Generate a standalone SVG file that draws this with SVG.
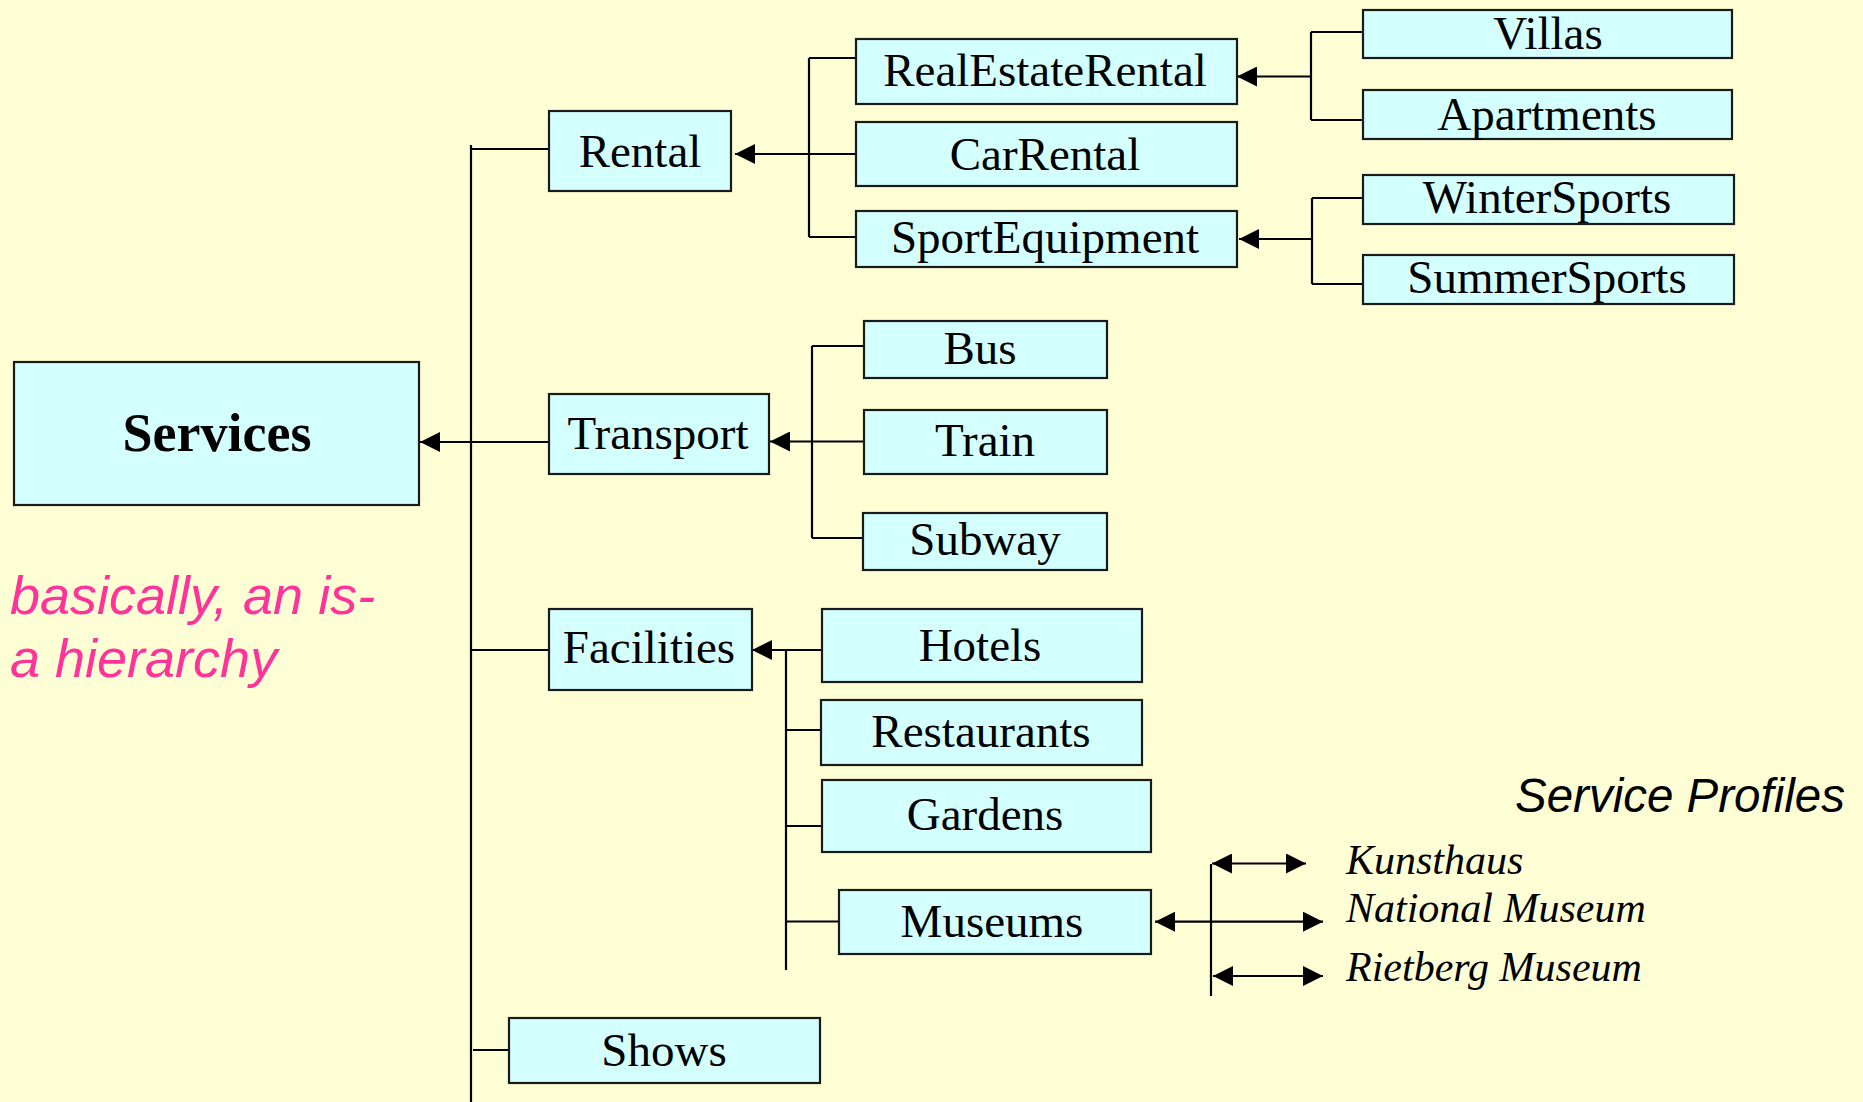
<svg xmlns="http://www.w3.org/2000/svg" width="1863" height="1102" viewBox="0 0 1863 1102">
<style>
.box{fill:#D4FFFF;stroke:#1a1a1a;stroke-width:2.2}
.lbl{font-family:"Liberation Serif","Times New Roman",serif;font-size:47px;fill:#000;text-anchor:middle}
.ln{stroke:#000;stroke-width:2.2;fill:none}
.prof{font-family:"Liberation Serif","Times New Roman",serif;font-size:42px;font-style:italic;fill:#000}
</style>
<defs>
<marker id="arr" viewBox="0 0 20 20" refX="20" refY="10" markerWidth="20" markerHeight="20" markerUnits="userSpaceOnUse" orient="auto-start-reverse">
<path d="M0,0 L20,10 L0,20 z" fill="#000"/>
</marker>
</defs>
<rect x="0" y="0" width="1863" height="1102" fill="#FFFFD6"/>

<g id="connectors">
<!-- trunk -->
<path class="ln" d="M471,145 V1102"/>
<path class="ln" d="M471,149 H549"/>
<path class="ln" d="M549,442 H420" marker-end="url(#arr)"/>
<path class="ln" d="M471,650 H549"/>
<path class="ln" d="M473,1050 H509"/>
<!-- rental subtree -->
<path class="ln" d="M809,58 V237"/>
<path class="ln" d="M809,58 H856"/>
<path class="ln" d="M856,154 H735" marker-end="url(#arr)"/>
<path class="ln" d="M809,237 H856"/>
<!-- real estate subtree -->
<path class="ln" d="M1311,32 V120"/>
<path class="ln" d="M1311,32 H1363"/>
<path class="ln" d="M1311,120 H1363"/>
<path class="ln" d="M1311,76.5 H1237" marker-end="url(#arr)"/>
<!-- sport subtree -->
<path class="ln" d="M1312,198 V284"/>
<path class="ln" d="M1312,198 H1363"/>
<path class="ln" d="M1312,284 H1363"/>
<path class="ln" d="M1312,239 H1239" marker-end="url(#arr)"/>
<!-- transport subtree -->
<path class="ln" d="M812,346 V538"/>
<path class="ln" d="M812,346 H864"/>
<path class="ln" d="M864,441.5 H770" marker-end="url(#arr)"/>
<path class="ln" d="M812,538 H864"/>
<!-- facilities subtree -->
<path class="ln" d="M786,650 V970"/>
<path class="ln" d="M822,650 H752" marker-end="url(#arr)"/>
<path class="ln" d="M786,730 H821"/>
<path class="ln" d="M786,826 H822"/>
<path class="ln" d="M786,921.5 H839"/>
<!-- museum profiles -->
<path class="ln" d="M1211,864 V996"/>
<path class="ln" d="M1212,863.5 H1306" marker-start="url(#arr)" marker-end="url(#arr)"/>
<path class="ln" d="M1155,921.7 H1323" marker-start="url(#arr)" marker-end="url(#arr)"/>
<path class="ln" d="M1213,976 H1323" marker-start="url(#arr)" marker-end="url(#arr)"/>
</g>

<g id="services">
<rect class="box" x="14" y="362" width="405" height="143"/>
<text class="lbl" x="217" y="451" style="font-weight:bold;font-size:54px">Services</text>
</g>
<g id="rental">
<rect class="box" x="549" y="111" width="182" height="80"/>
<text class="lbl" x="640" y="167">Rental</text>
</g>
<g id="transport">
<rect class="box" x="549" y="394" width="220" height="80"/>
<text class="lbl" x="658" y="449">Transport</text>
</g>
<g id="facilities">
<rect class="box" x="549" y="609" width="203" height="81"/>
<text class="lbl" x="649" y="663">Facilities</text>
</g>
<g id="shows">
<rect class="box" x="509" y="1018" width="311" height="65"/>
<text class="lbl" x="664" y="1066">Shows</text>
</g>
<g id="realestaterental">
<rect class="box" x="856" y="39" width="381" height="65"/>
<text class="lbl" x="1045" y="86">RealEstateRental</text>
</g>
<g id="carrental">
<rect class="box" x="856" y="122" width="381" height="64"/>
<text class="lbl" x="1045" y="170">CarRental</text>
</g>
<g id="sportequipment">
<rect class="box" x="856" y="211" width="381" height="56"/>
<text class="lbl" x="1045" y="253">SportEquipment</text>
</g>
<g id="villas">
<rect class="box" x="1363" y="10" width="369" height="48"/>
<text class="lbl" x="1548" y="49">Villas</text>
</g>
<g id="apartments">
<rect class="box" x="1363" y="90" width="369" height="49"/>
<text class="lbl" x="1547" y="130">Apartments</text>
</g>
<g id="wintersports">
<rect class="box" x="1363" y="175" width="371" height="49"/>
<text class="lbl" x="1547" y="213">WinterSports</text>
</g>
<g id="summersports">
<rect class="box" x="1363" y="255" width="371" height="49"/>
<text class="lbl" x="1547" y="293">SummerSports</text>
</g>
<g id="bus">
<rect class="box" x="864" y="321" width="243" height="57"/>
<text class="lbl" x="980" y="364">Bus</text>
</g>
<g id="train">
<rect class="box" x="864" y="410" width="243" height="64"/>
<text class="lbl" x="985" y="456">Train</text>
</g>
<g id="subway">
<rect class="box" x="863" y="513" width="244" height="57"/>
<text class="lbl" x="985" y="555">Subway</text>
</g>
<g id="hotels">
<rect class="box" x="822" y="609" width="320" height="73"/>
<text class="lbl" x="980" y="661">Hotels</text>
</g>
<g id="restaurants">
<rect class="box" x="821" y="700" width="321" height="65"/>
<text class="lbl" x="981" y="747">Restaurants</text>
</g>
<g id="gardens">
<rect class="box" x="822" y="780" width="329" height="72"/>
<text class="lbl" x="985" y="830">Gardens</text>
</g>
<g id="museums">
<rect class="box" x="839" y="890" width="312" height="64"/>
<text class="lbl" x="992" y="937">Museums</text>
</g>

<g id="notes">
<text x="10" y="614" style="font-family:'Liberation Sans',Arial,sans-serif;font-size:54px;font-style:italic;fill:#FF3399">basically, an is-</text>
<text x="10" y="677" style="font-family:'Liberation Sans',Arial,sans-serif;font-size:54px;font-style:italic;fill:#FF3399">a hierarchy</text>
<text x="1515" y="812" style="font-family:'Liberation Sans',Arial,sans-serif;font-size:47.5px;font-style:italic;fill:#000">Service Profiles</text>
<text class="prof" x="1346" y="874">Kunsthaus</text>
<text class="prof" x="1346" y="922">National Museum</text>
<text class="prof" x="1346" y="981">Rietberg Museum</text>
</g>
</svg>
